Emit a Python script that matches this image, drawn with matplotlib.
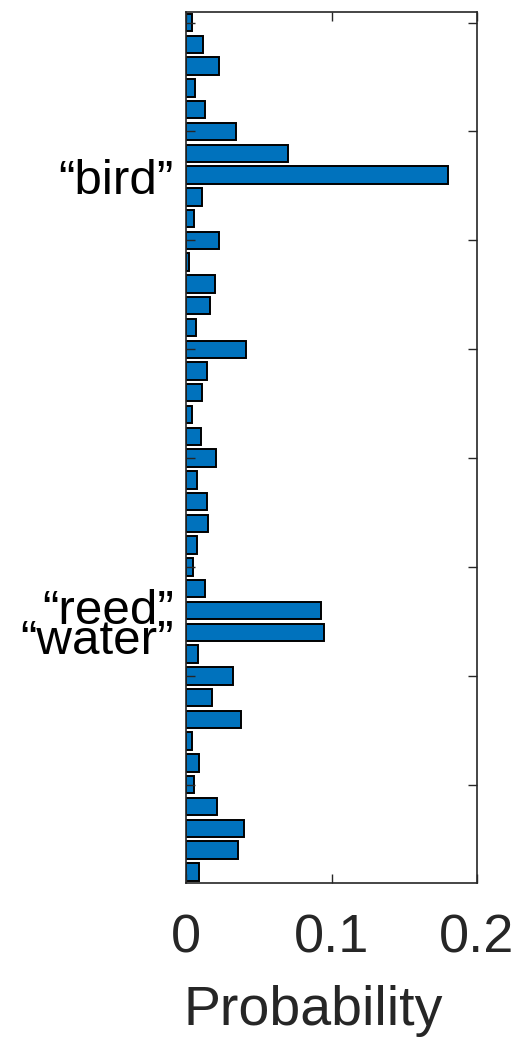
import numpy as np
import matplotlib
matplotlib.use('Agg')
import matplotlib.pyplot as plt

plt.rcParams['font.family'] = ['Liberation Sans', 'DejaVu Sans']

# probability of each word (top to bottom)
probs = [0.0041, 0.012, 0.0225, 0.0064, 0.013, 0.0345, 0.0703, 0.180,
         0.0108, 0.0057, 0.0225, 0.0018, 0.020, 0.0165, 0.0069, 0.041,
         0.0142, 0.0112, 0.0041, 0.010, 0.0206, 0.0078, 0.0144, 0.0153,
         0.0076, 0.005, 0.0133, 0.0925, 0.0951, 0.0085, 0.032, 0.018,
         0.0376, 0.0039, 0.009, 0.0055, 0.0213, 0.040, 0.0358, 0.009]
positions = np.arange(1, len(probs) + 1)

# labelled words and the bar they belong to
words = ['\u201cbird\u201d', '\u201creed\u201d', '\u201cwater\u201d']
word_bars = [8, 28, 29]
word_shift = [0.87, 0.6, 0.98]   # baseline offset below the bar centre

xticks = [0, 0.1, 0.2]
yticks = [1, 6, 11, 16, 21, 26, 31, 36]

fig = plt.figure(figsize=(5.17, 10.38), dpi=100)
ax = fig.add_axes([0.3598, 0.1496, 0.9226 - 0.3598, 0.9887 - 0.1496])

ax.barh(positions, probs, height=0.8, color='#0072BD', edgecolor='black', linewidth=1.4)

ax.set_xlim(0, 0.2)
ax.set_ylim(40.5, 0.5)
ax.set_xticks(xticks)
ax.set_xticklabels(['0', '0.1', '0.2'])
ax.set_yticks(yticks)
ax.set_yticklabels([])
ax.tick_params(axis='both', direction='in', length=6.5, width=1.0, color='#262626',
               top=True, right=True, labelcolor='#262626')
ax.tick_params(axis='x', labelsize=39, pad=22)
for s in ax.spines.values():
    s.set_color('#262626')
    s.set_linewidth(1.2)

ax.set_xlabel('Probability', fontsize=40, color='#262626')
ax.xaxis.set_label_coords(0.437, -0.118)
ax.xaxis.label.set_va('top')

for w, b, sh in zip(words, word_bars, word_shift):
    ax.text(-0.0085, b + sh, w, fontsize=35.5, ha='right', va='baseline', color='black',
            clip_on=False)

fig.savefig('out.png', dpi=100)
